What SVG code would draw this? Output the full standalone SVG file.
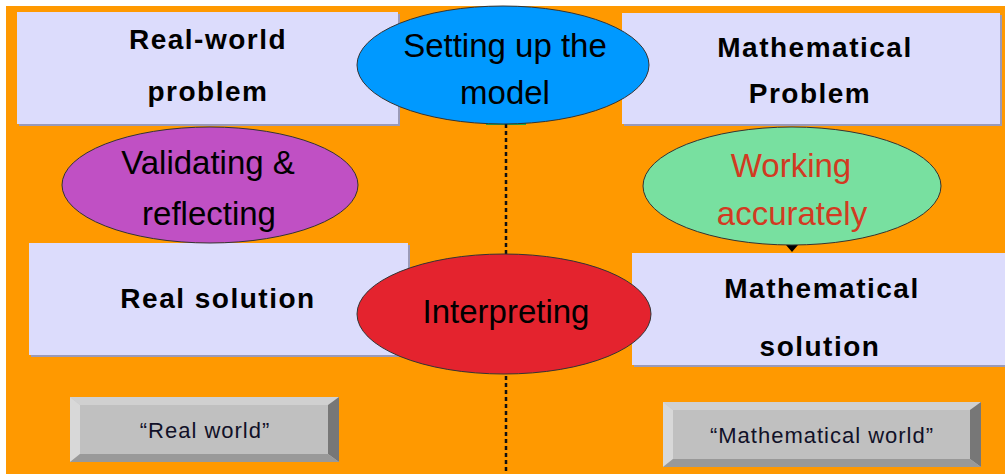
<svg xmlns="http://www.w3.org/2000/svg" width="1005" height="474" viewBox="0 0 1005 474">
<style>
.box{fill:#dcdcfc}
.shd{fill:#9a9ab8}
.bt{font-family:"Liberation Sans",Arial,sans-serif;font-weight:bold;font-size:28px;letter-spacing:1.5px;fill:#000;text-anchor:middle}
.et{font-family:"Liberation Sans",Arial,sans-serif;font-size:33px;fill:#000;text-anchor:middle}
.el{stroke:#333;stroke-width:1}
.gt{font-family:"Liberation Sans",Arial,sans-serif;font-size:22px;letter-spacing:1px;fill:#111128;text-anchor:middle}
</style>
<rect x="0" y="0" width="1005" height="474" fill="#ffffff"/>
<rect x="6" y="6" width="999" height="468" fill="#ff9900"/>
<g id="connectors">
<rect x="486" y="121" width="40" height="4" fill="#22aa44"/>
<line x1="506" y1="124" x2="506" y2="474" stroke="#111" stroke-width="2.5" stroke-dasharray="4,3"/>
<polygon points="786,245 798,245 792,252" fill="#000"/>
</g>
<g id="real-world-problem">
<rect class="shd" x="19" y="14" width="381" height="112"/>
<rect class="box" x="17" y="12" width="381" height="112"/>
<text class="bt" x="208" y="49">Real-world</text>
<text class="bt" x="208" y="101">problem</text>
</g>
<g id="mathematical-problem">
<rect class="shd" x="624" y="15" width="378" height="111"/>
<rect class="box" x="622" y="13" width="378" height="111"/>
<text class="bt" x="815" y="57">Mathematical</text>
<text class="bt" x="810" y="103">Problem</text>
</g>
<g id="real-solution">
<rect class="shd" x="31" y="245" width="379" height="112"/>
<rect class="box" x="29" y="243" width="379" height="112"/>
<text class="bt" x="218" y="308">Real solution</text>
</g>
<g id="mathematical-solution">
<rect class="shd" x="634" y="255" width="373" height="112"/>
<rect class="box" x="632" y="253" width="373" height="112"/>
<text class="bt" x="822" y="298">Mathematical</text>
<text class="bt" x="820" y="356">solution</text>
</g>
<g id="setting-up-the-model">
<ellipse class="el" cx="503" cy="65" rx="146" ry="59" fill="#0099ff"/>
<text class="et" x="505" y="57">Setting up the</text>
<text class="et" x="505" y="104">model</text>
</g>
<g id="validating-reflecting">
<ellipse class="el" cx="210" cy="185" rx="148" ry="58" fill="#c050c4"/>
<text class="et" x="208" y="174">Validating &amp;</text>
<text class="et" x="209" y="225">reflecting</text>
</g>
<g id="working-accurately">
<ellipse class="el" cx="792" cy="186" rx="149" ry="59" fill="#78e0a0"/>
<text class="et" x="791" y="177" style="fill:#d23a22">Working</text>
<text class="et" x="792" y="225" style="fill:#d23a22">accurately</text>
</g>
<g id="interpreting">
<ellipse class="el" cx="504" cy="314" rx="147" ry="60" fill="#e4232e"/>
<text class="et" x="506" y="323">Interpreting</text>
</g>
<g id="real-world-label">
<rect x="70" y="397" width="269" height="65" fill="#c0c0c0"/>
<polygon points="70,397 339,397 329,405 80,405" fill="#d0d0d0"/>
<polygon points="70,397 80,405 80,454 70,462" fill="#d8d8d8"/>
<polygon points="339,397 339,462 328,454 328,405" fill="#777777"/>
<polygon points="70,462 339,462 328,454 80,454" fill="#999999"/>
<text class="gt" x="205" y="438">“Real world”</text>
</g>
<g id="mathematical-world-label">
<rect x="663" y="402" width="318" height="65" fill="#c0c0c0"/>
<polygon points="663,402 981,402 970,410 673,410" fill="#d0d0d0"/>
<polygon points="663,402 673,410 673,459 663,467" fill="#d8d8d8"/>
<polygon points="981,402 981,467 970,459 970,410" fill="#777777"/>
<polygon points="663,467 981,467 970,459 673,459" fill="#999999"/>
<text class="gt" x="822" y="443">“Mathematical world”</text>
</g>
</svg>
